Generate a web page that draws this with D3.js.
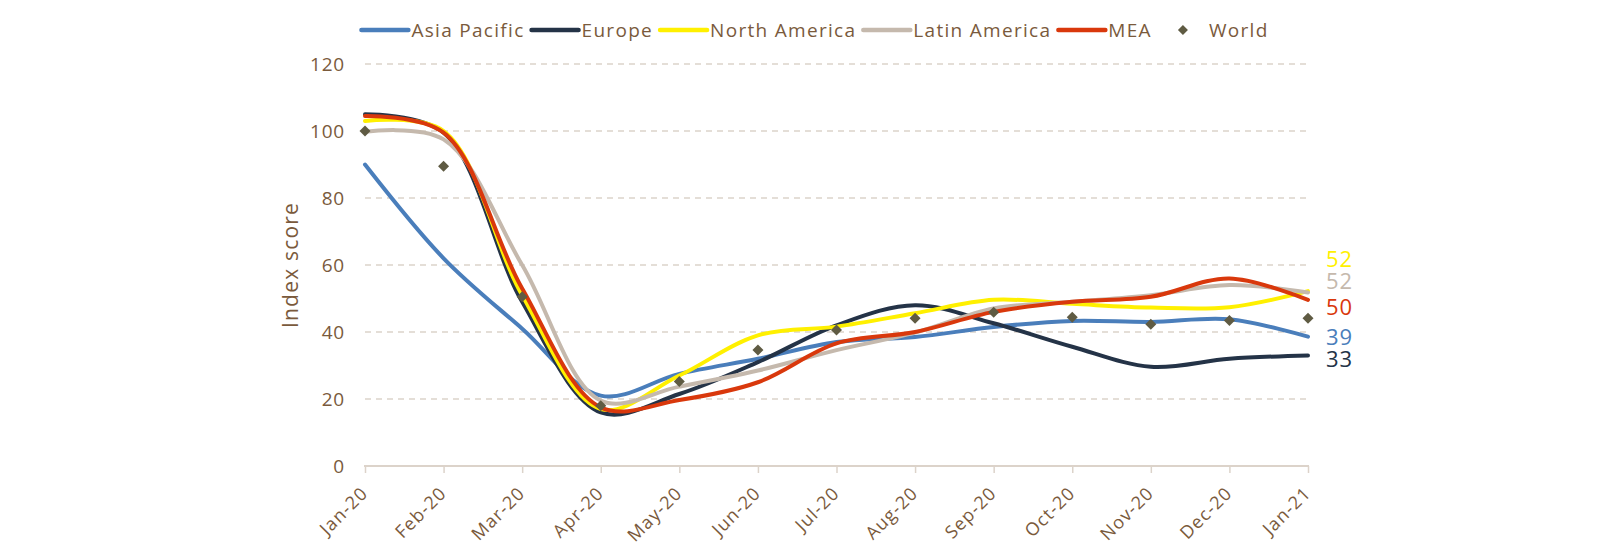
<!DOCTYPE html>
<html>
<head>
<meta charset="utf-8">
<script src="https://cdn.jsdelivr.net/npm/d3@7"></script>
<style>
  html, body { margin: 0; padding: 0; background: #ffffff; }
  svg { display: block; font-family: "Open Sans", sans-serif; }
</style>
</head>
<body>
<svg id="chart" width="1600" height="550"></svg>
<script>
// months on the x axis
const months = ["Jan-20", "Feb-20", "Mar-20", "Apr-20", "May-20", "Jun-20",
  "Jul-20", "Aug-20", "Sep-20", "Oct-20", "Nov-20", "Dec-20", "Jan-21"];

// index score per region
const asiaPacific = [90, 62, 41, 21, 27.5, 32, 37, 38.5, 41.5, 43.3, 43, 43.8, 38.6];
const europe = [105, 99.5, 49, 16, 21.5, 31, 42, 48, 42.6, 35.6, 29.6, 32, 33];
const northAmerica = [103, 100, 51, 17, 27, 39, 41.6, 45.6, 49.6, 48.4, 47.3, 47.4, 52.2];
const latinAmerica = [99.8, 97.5, 60, 19.5, 23.7, 28.5, 34.6, 39.8, 47, 49, 51, 54, 51.8];
const mea = [104.5, 99.5, 53, 17.5, 19.7, 25, 36.6, 40, 46, 49, 50.5, 56, 49.6];
const world = [100, 89.5, 50.5, 18, 25.2, 34.6, 40.6, 44.1, 45.9, 44.4, 42.3, 43.4, 44.1];

const yTicks = [0, 20, 40, 60, 80, 100, 120];

const series = [
  { name: "Asia Pacific", values: asiaPacific, color: "#4a7ebb" },
  { name: "Europe", values: europe, color: "#243347" },
  { name: "North America", values: northAmerica, color: "#fff000" },
  { name: "Latin America", values: latinAmerica, color: "#c5b9ad" },
  { name: "MEA", values: mea, color: "#d9380c" }
];
const worldColor = "#5f5b43";
const textColor = "#7a5a3c";
const gridColor = "#dcd3ca";

// vertical nudge of the end labels so they don't sit on top of each other
const labelNudge = {
  "North America": -32, "Latin America": -11, "MEA": 7,
  "Asia Pacific": 1, "Europe": 4
};

const svg = d3.select("#chart");
const plot = { left: 365, right: 1308, top: 64, bottom: 466 };

const x = d3.scalePoint().domain(months).range([plot.left, plot.right]);
const y = d3.scaleLinear().domain([0, 120]).range([plot.bottom, plot.top]);

// gridlines
svg.append("g")
  .selectAll("line")
  .data(yTicks.filter(d => d > 0))
  .enter()
  .append("line")
  .attr("x1", plot.left)
  .attr("x2", plot.right)
  .attr("y1", d => y(d))
  .attr("y2", d => y(d))
  .attr("stroke", gridColor)
  .attr("stroke-width", 1.6)
  .attr("stroke-dasharray", "6,5");

// y axis labels
const yAxis = svg.append("g")
  .attr("transform", `translate(${plot.left - 20},0)`)
  .call(d3.axisLeft(y).tickValues(yTicks).tickSize(0).tickPadding(0));
yAxis.select(".domain").remove();
yAxis.selectAll("text")
  .attr("fill", textColor)
  .attr("font-size", 19)
  .attr("font-family", "Open Sans, sans-serif")
  .attr("letter-spacing", 0.8);

// x axis
const xAxis = svg.append("g")
  .attr("transform", `translate(0,${plot.bottom})`)
  .call(d3.axisBottom(x).tickSize(7).tickSizeOuter(0));
xAxis.select(".domain").attr("stroke", gridColor).attr("stroke-width", 2)
  .attr("d", `M${plot.left - 1},0H${plot.right + 1}`);
xAxis.selectAll(".tick line").attr("stroke", gridColor).attr("stroke-width", 1.5);
xAxis.selectAll("text")
  .attr("fill", textColor)
  .attr("font-size", 18)
  .attr("font-family", "Open Sans, sans-serif")
  .attr("letter-spacing", 1.1)
  .attr("text-anchor", "end")
  .attr("y", 0)
  .attr("dy", "0.35em")
  .attr("transform", "translate(-1,24) rotate(-45)");

// axis title
svg.append("text")
  .attr("transform", `translate(291,${(plot.top + plot.bottom) / 2}) rotate(-90)`)
  .attr("text-anchor", "middle")
  .attr("dy", "0.35em")
  .attr("fill", textColor)
  .attr("font-size", 21)
  .attr("letter-spacing", 1.2)
  .text("Index score");

// smoothed lines; centripetal Catmull-Rom is close to Excel's smoothing
const line = d3.line()
  .x((d, i) => x(months[i]))
  .y(d => y(d))
  .curve(d3.curveCatmullRom.alpha(0.5));

svg.append("g")
  .selectAll("path")
  .data(series)
  .enter()
  .append("path")
  .attr("d", s => line(s.values))
  .attr("fill", "none")
  .attr("stroke", s => s.color)
  .attr("stroke-width", 4)
  .attr("stroke-linecap", "round");

// world diamonds
const diamond = "M0,-5.5L5.5,0L0,5.5L-5.5,0Z";
svg.append("g")
  .selectAll("path")
  .data(world)
  .enter()
  .append("path")
  .attr("d", diamond)
  .attr("transform", (d, i) => `translate(${x(months[i])},${y(d)})`)
  .attr("fill", worldColor);

// end labels
svg.append("g")
  .selectAll("text")
  .data(series)
  .enter()
  .append("text")
  .attr("x", plot.right + 18)
  .attr("y", s => y(s.values[s.values.length - 1]) + labelNudge[s.name])
  .attr("dy", "0.35em")
  .attr("fill", s => s.color)
  .attr("font-size", 22)
  .attr("letter-spacing", 0.8)
  .text(s => Math.round(s.values[s.values.length - 1]));

// legend
const legendItems = series.map(s => ({ name: s.name, color: s.color, kind: "line" }))
  .concat([{ name: "World", color: worldColor, kind: "marker" }]);
const legendG = svg.append("g");
let cursor = 0;
legendItems.forEach(item => {
  const g = legendG.append("g").attr("transform", `translate(${cursor},0)`);
  if (item.kind === "line") {
    g.append("line")
      .attr("x1", 0).attr("x2", 47)
      .attr("stroke", item.color)
      .attr("stroke-width", 4.5)
      .attr("stroke-linecap", "round");
  } else {
    g.append("path")
      .attr("d", "M0,-5L5,0L0,5L-5,0Z")
      .attr("transform", "translate(24,0)")
      .attr("fill", item.color);
  }
  const t = g.append("text")
    .attr("x", 50)
    .attr("dy", "0.35em")
    .attr("fill", textColor)
    .attr("font-size", 19)
    .attr("letter-spacing", 1.3)
    .text(item.name);
  cursor += 50 + t.node().getComputedTextLength() + 7;
});
// centre the legend over where the reference puts it
const legendWidth = cursor - 7;
legendG.attr("transform", `translate(${815 - legendWidth / 2},30)`);
</script>
</body>
</html>
